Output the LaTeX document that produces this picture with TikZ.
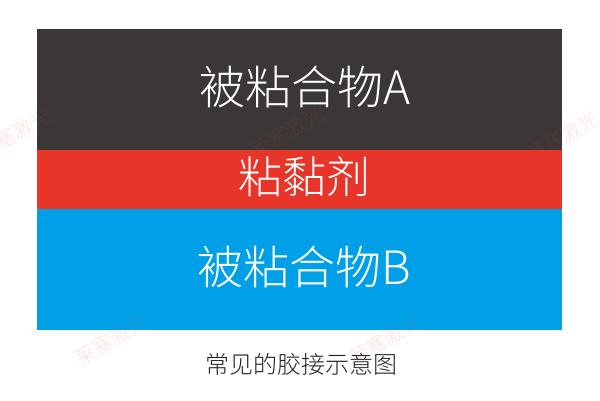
\documentclass[tikz,border=0pt]{standalone}
\usepackage{fontspec}
\newfontfamily\cjk{Noto Sans CJK SC Light}
\definecolor{bandgray}{HTML}{3A3736}
\definecolor{bandred}{HTML}{E8352A}
\definecolor{bandblue}{HTML}{00A0E8}
\definecolor{captioncol}{HTML}{222222}
\definecolor{wmcol}{HTML}{E84040}
\tikzset{
  band/.style={inner sep=0pt, minimum width=525pt, text=white, font=\cjk},
  wm/.style={text=wmcol, text opacity=0.15, rotate=30, font=\cjk\fontsize{20pt}{20pt}\selectfont, inner sep=0pt},
}
\begin{document}
\begin{tikzpicture}[x=1pt,y=-1pt]
\useasboundingbox (0,0) rectangle (600,400);
\fill[white] (0,0) rectangle (600,400);
\node[band, fill=bandgray, minimum height=121pt] (A) at (299.5,89.5) {};
\node[band, fill=bandred, minimum height=59pt] (G) at (299.5,179.5) {};
\node[band, fill=bandblue, minimum height=121pt] (B) at (299.5,269.5) {};
\node[text=white, font=\cjk\fontsize{46pt}{46pt}\selectfont, inner sep=0pt] (tA) at (305,87) {被粘合物A};
\node[text=white, font=\cjk\fontsize{44pt}{44pt}\selectfont, inner sep=0pt] (tG) at (304,177) {粘黏剂};
\node[text=white, font=\cjk\fontsize{46pt}{46pt}\selectfont, inner sep=0pt] (tB) at (304,267) {被粘合物B};
\node[text=captioncol, font=\cjk\fontsize{24pt}{24pt}\selectfont, inner sep=0pt] (cap) at (301,364) {常见的胶接示意图};
\node[wm] (w1) at (14,134) {莱塞激光};
\node[wm] (w2) at (287,132) {莱塞激光};
\node[wm] (w3) at (562,137) {莱塞激光};
\node[wm] (w4) at (111,340) {莱塞激光};
\node[wm] (w5) at (385,340) {莱塞激光};
\end{tikzpicture}
\end{document}
